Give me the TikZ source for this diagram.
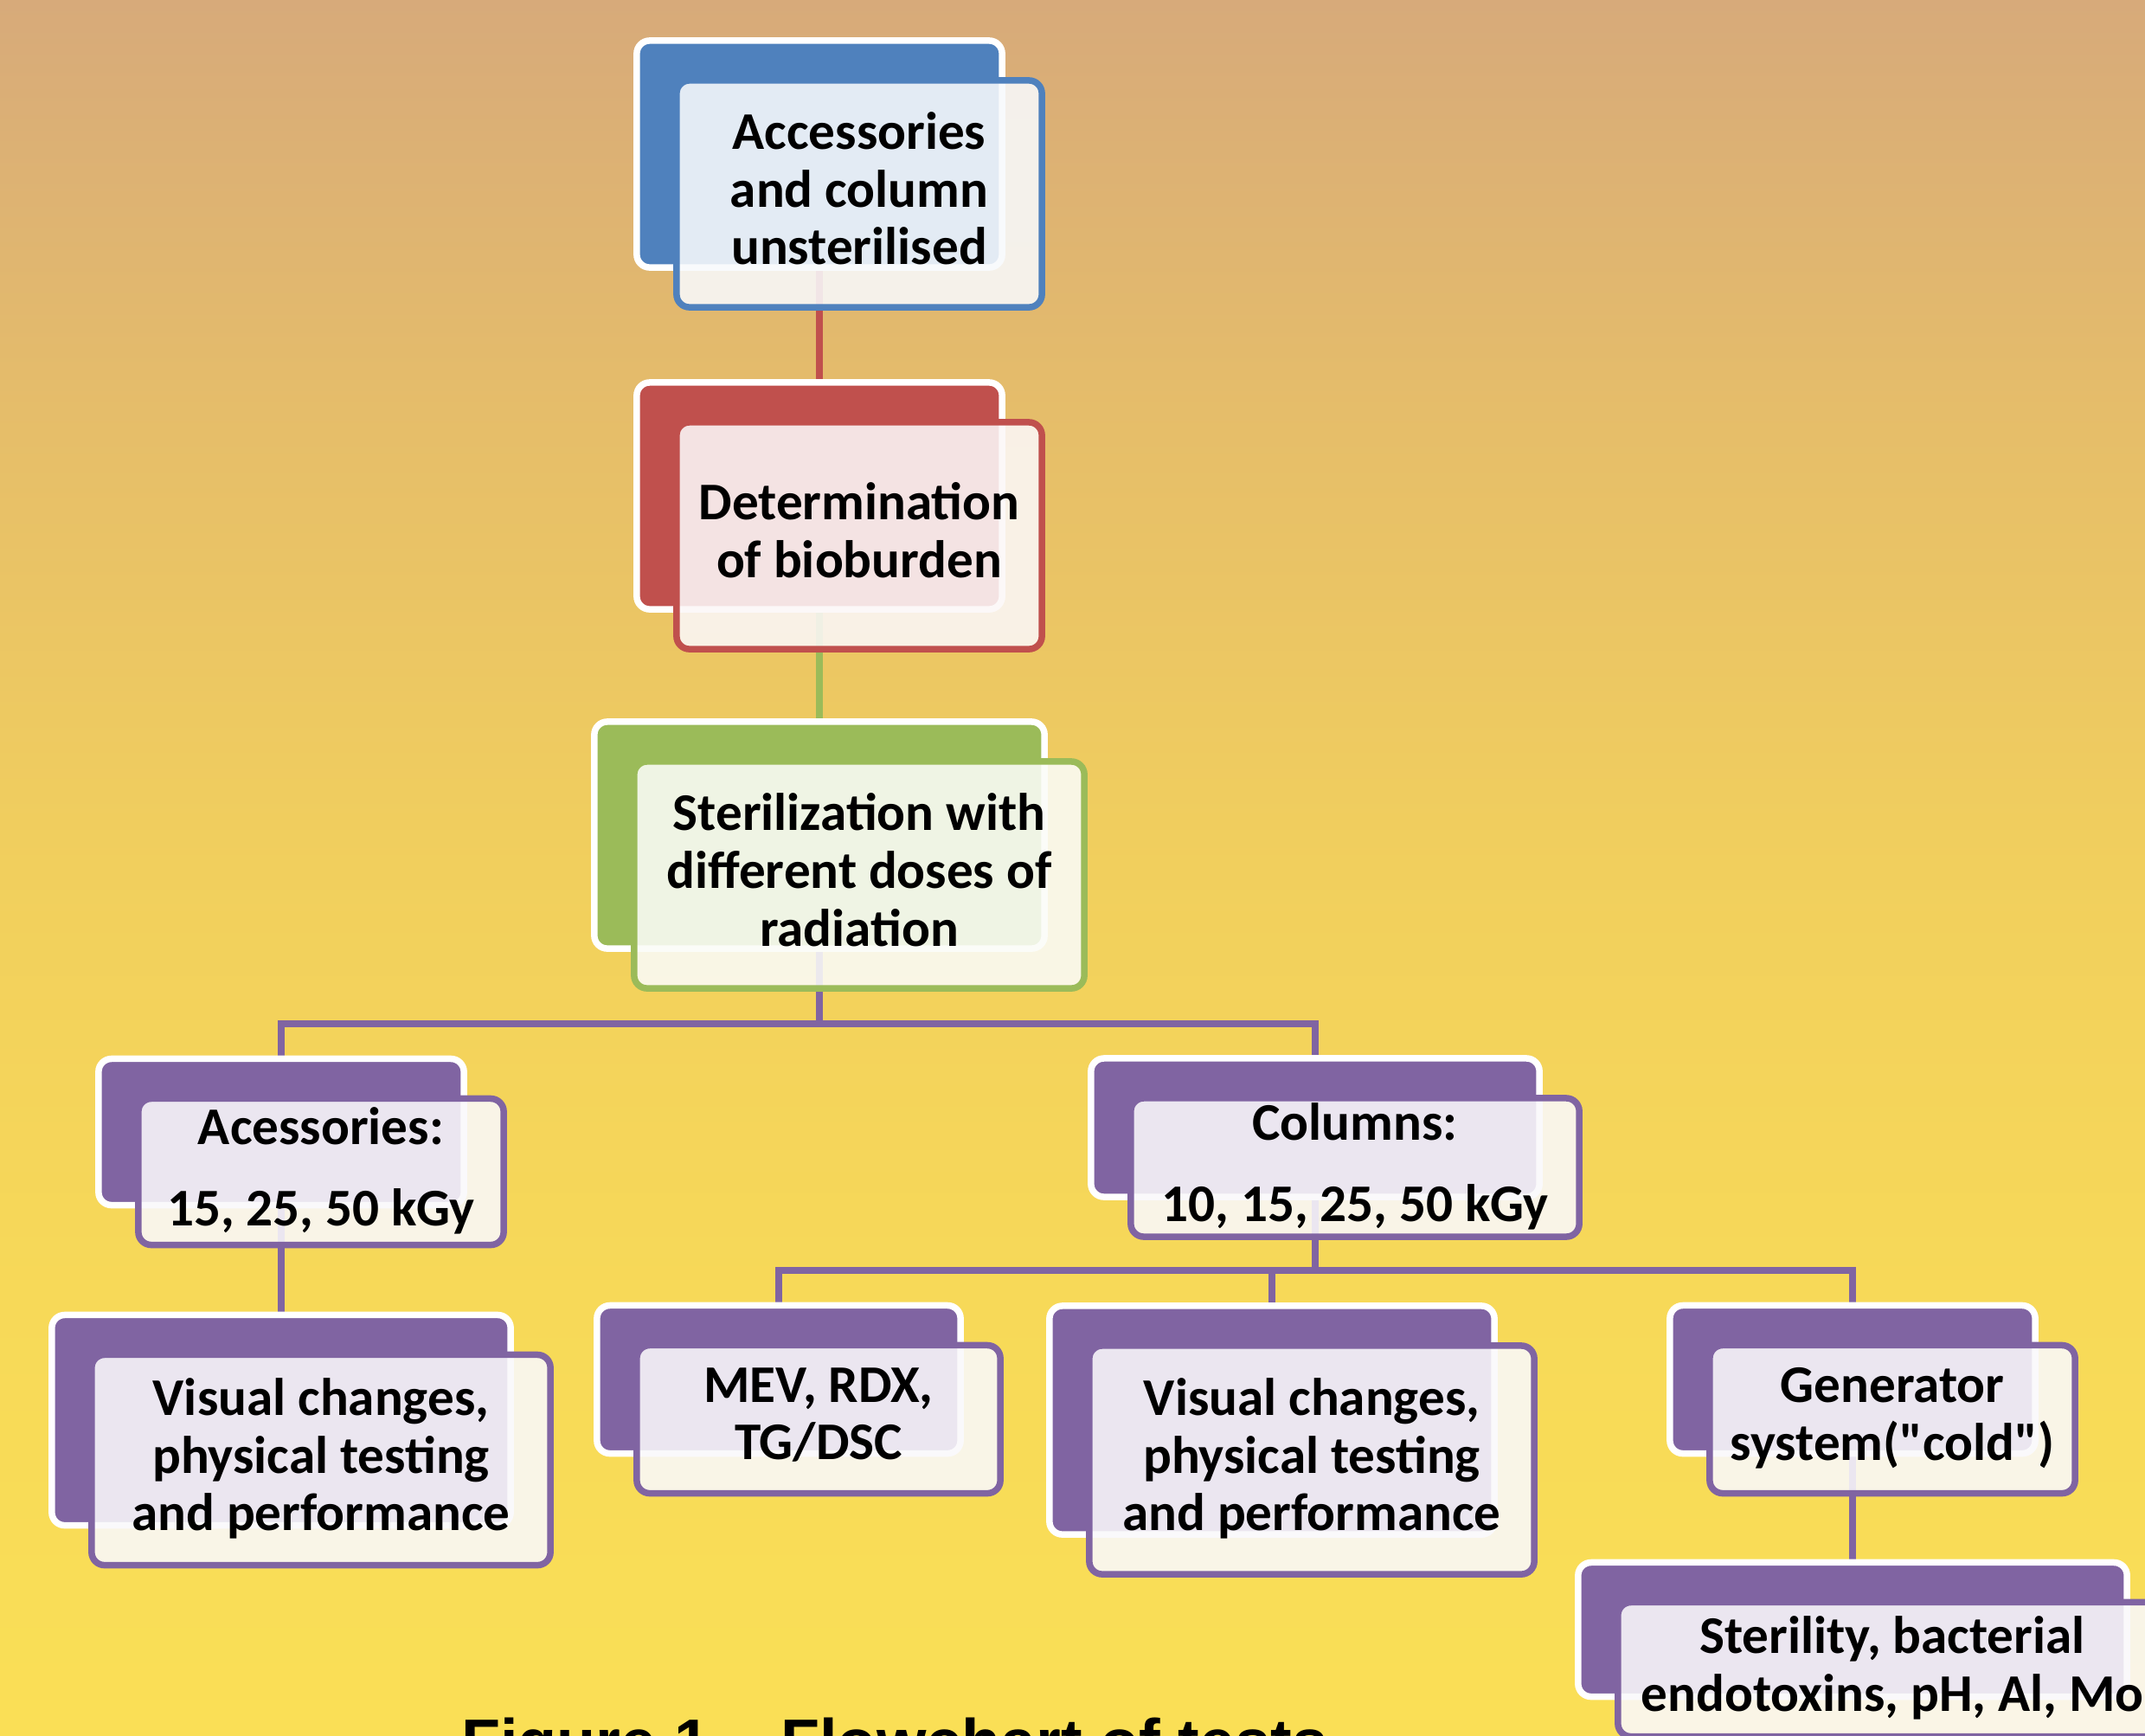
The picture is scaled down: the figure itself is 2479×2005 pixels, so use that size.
\documentclass[tikz,border=0pt]{standalone}
\usepackage{fontspec}
\setmainfont{Carlito}[Ligatures=TeXOff]
\newfontfamily\capfont{Liberation Sans}
\usetikzlibrary{calc}
\pgfdeclarelayer{bglayer}
\pgfdeclarelayer{linelayer}
\pgfsetlayers{bglayer,linelayer,main}
\definecolor{accblue}{HTML}{4F81BD}
\definecolor{accred}{HTML}{C0504D}
\definecolor{accgreen}{HTML}{9BBB59}
\definecolor{accpurple}{HTML}{8064A2}
\definecolor{bgA}{RGB}{215,170,122}
\definecolor{bgB}{RGB}{230,190,105}
\definecolor{bgC}{RGB}{241,207,93}
\definecolor{bgD}{RGB}{247,217,88}
\definecolor{bgE}{RGB}{250,223,86}
\pgfdeclareverticalshading{bgshade}{100bp}{color(0bp)=(bgE); color(25bp)=(bgE); color(37.5bp)=(bgD); color(50bp)=(bgC); color(62.5bp)=(bgB); color(75bp)=(bgA); color(100bp)=(bgA)}
\newcommand\bxfont{\bfseries\fontsize{17.4}{19}\selectfont}
\begin{document}
\begin{tikzpicture}[x=0.01cm,y=-0.01cm,
  every node/.style={inner sep=0pt, outer sep=0pt},
  backbox/.style={draw=white, fill=#1, line width=0.075cm, rounded corners=0.15cm},
  frontbox/.style={draw=#1, fill=#1!4!white, fill opacity=0.88, text opacity=1, line width=0.075cm, rounded corners=0.15cm, align=center, text=black, font=\bxfont, execute at end node={\rule[-3.6pt]{0pt}{0pt}}},
  conn/.style={draw=#1, line width=0.075cm},
  sz/.style 2 args={minimum width=#1, minimum height=#2}]
\useasboundingbox (0,0) rectangle (2479,2005);
\begin{pgfonlayer}{bglayer}
\shade[shading=bgshade] (0,0) rectangle (2479,2005);
\end{pgfonlayer}

% level 0
\node[backbox=accblue, sz={4.22cm}{2.62cm}] (b1) at (947,178) {};
\node[frontbox=accblue, sz={4.22cm}{2.62cm}] (f1) at (993,224) {Accessories\\and column\\unsterilised};
\node[backbox=accred, sz={4.22cm}{2.62cm}] (b2) at (947,573) {};
\node[frontbox=accred, sz={4.22cm}{2.62cm}] (f2) at (993,619) {Determination\\of bioburden};
\node[backbox=accgreen, sz={5.20cm}{2.62cm}] (b3) at (947,965) {};
\node[frontbox=accgreen, sz={5.20cm}{2.62cm}] (f3) at (993,1011) {Sterilization with\\different doses of\\radiation};

% level 1
\node[backbox=accpurple, sz={4.22cm}{1.69cm}] (b4) at (325,1308) {};
\node[frontbox=accpurple, sz={4.22cm}{1.69cm}] (f4) at (371,1354) {Acessories:\\[7.7pt]15, 25, 50 kGy};
\node[backbox=accpurple, sz={5.18cm}{1.60cm}] (b6) at (1520,1303) {};
\node[frontbox=accpurple, sz={5.18cm}{1.60cm}] (f6) at (1566,1349) {Columns:\\[7.7pt]10, 15, 25, 50 kGy};

% level 2
\node[backbox=accpurple, sz={5.30cm}{2.43cm}] (b5) at (325,1641) {};
\node[frontbox=accpurple, sz={5.30cm}{2.43cm}] (f5) at (371,1687) {Visual changes,\\physical testing\\and performance};
\node[backbox=accpurple, sz={4.20cm}{1.71cm}] (b7) at (900,1594) {};
\node[frontbox=accpurple, sz={4.20cm}{1.71cm}] (f7) at (946,1640) {MEV, RDX,\\TG/DSC};
\node[backbox=accpurple, sz={5.14cm}{2.64cm}] (b8) at (1470,1641) {};
\node[frontbox=accpurple, sz={5.14cm}{2.64cm}] (f8) at (1516,1687) {Visual changes,\\physical testing\\and performance};
\node[backbox=accpurple, sz={4.22cm}{1.71cm}] (b9) at (2141,1594) {};
\node[frontbox=accpurple, sz={4.22cm}{1.71cm}] (f9) at (2187,1640) {Generator\\system("cold")};
\node[backbox=accpurple, sz={6.34cm}{1.55cm}] (b10) at (2141,1883) {};
\node[frontbox=accpurple, sz={6.34cm}{1.55cm}] (f10) at (2187,1929) {Sterility, bacterial\\endotoxins, pH, Al, Mo};

% connectors
\coordinate (h1) at (947,1183);
\coordinate (h2) at (1520,1468);
\begin{pgfonlayer}{linelayer}
\draw[conn=accred] (b1.center) -- (b2.north);
\draw[conn=accgreen] (b2.center) -- (b3.north);
\draw[conn=accpurple] (b3.center) -- (h1);
\draw[conn=accpurple] (h1) -| (b4.north);
\draw[conn=accpurple] (h1) -| (b6.north);
\draw[conn=accpurple] (b4.center) -- (b5.north);
\draw[conn=accpurple] (b6.center) -- (h2);
\draw[conn=accpurple] (h2) -| (b7.north);
\draw[conn=accpurple] (h2) -| (b8.north);
\draw[conn=accpurple] (h2) -| (b9.north);
\draw[conn=accpurple] (b9.center) -- (b10.north);
\end{pgfonlayer}

\node[anchor=base west, font=\capfont\bfseries\fontsize{21}{25}\selectfont] (cap) at (533,2038) {Figure 1 – Flowchart of tests};
\end{tikzpicture}
\end{document}
